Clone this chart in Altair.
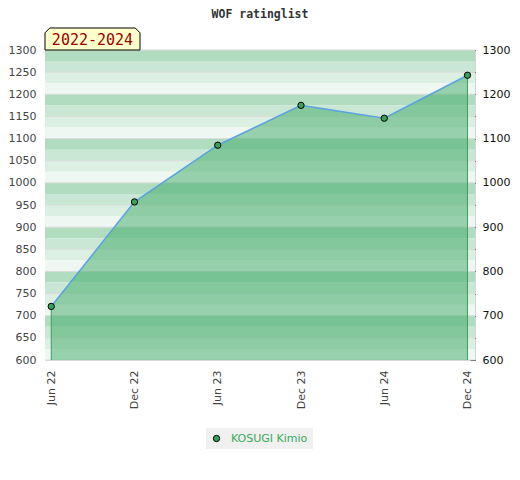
import altair as alt
import pandas as pd

# ---- data ----
labels = ["Jun 22", "Dec 22", "Jun 23", "Dec 23", "Jun 24", "Dec 24"]
ratings = [721, 957, 1085, 1175, 1146, 1243]
player = "KOSUGI Kimio"
period = "2022-2024"

Y_MIN, Y_MAX = 600, 1300
band_colors = ["#b2dcc0", "#c9e7d4", "#dcefe3", "#eff7f2"]

df = pd.DataFrame({"idx": list(range(len(labels))), "label": labels,
                   "rating": ratings, "player": player, "base": Y_MIN})
edges = df.iloc[[0, -1]]

band_tops = list(range(Y_MAX, Y_MIN, -25))
bands = pd.DataFrame({"top": band_tops,
                      "bottom": [t - 25 for t in band_tops],
                      "fill": [band_colors[i % 4] for i in range(len(band_tops))]})
grid = pd.DataFrame({"v": list(range(Y_MIN, Y_MAX + 1, 50))})

W, H = 430, 310
yscale = alt.Scale(domain=[Y_MIN, Y_MAX], nice=False, zero=False)
label_expr = "[" + ",".join("'%s'" % l for l in labels) + "][datum.value]"
xaxis = alt.Axis(values=list(range(len(labels))), labelExpr=label_expr,
                 labelAngle=-90, ticks=False, domain=False, grid=False,
                 labelPadding=10, labelColor="#444", labelFontSize=11,
                 labelFont="DejaVu Sans", title=None, labelBaseline="middle",
                 labelAlign="right")
xscale = alt.Scale(domain=[-0.075, 5.09], nice=False, zero=False)

band_layer = alt.Chart(bands).mark_rect().encode(
    x=alt.value(0), x2=alt.value(W),
    y=alt.Y("top:Q", scale=yscale,
            axis=alt.Axis(values=list(range(Y_MIN, Y_MAX + 1, 50)), ticks=False,
                          format="d", domain=False, grid=False, labelColor="#444",
                          labelFontSize=11, labelFont="DejaVu Sans",
                          labelPadding=9, title=None, orient="left")),
    y2="bottom:Q",
    fill=alt.Fill("fill:N", scale=None),
)

grid_layer = alt.Chart(grid).mark_rule(color="#d9dcda", strokeWidth=1).encode(
    y=alt.Y("v:Q", scale=yscale, axis=None),
)

area_layer = alt.Chart(df).mark_area(color="#3eaa66", opacity=0.5).encode(
    x=alt.X("idx:Q", scale=xscale, axis=xaxis),
    y=alt.Y("rating:Q", scale=yscale, axis=None),
    y2="base:Q",
)

edge_layer = alt.Chart(edges).mark_rule(color="#3aa05a", strokeWidth=1).encode(
    x=alt.X("idx:Q", scale=xscale, axis=xaxis),
    y=alt.Y("rating:Q", scale=yscale, axis=None),
    y2="base:Q",
)

line_layer = alt.Chart(df).mark_line(color="#5aa2e0", strokeWidth=1.5).encode(
    x=alt.X("idx:Q", scale=xscale, axis=xaxis),
    y=alt.Y("rating:Q", scale=yscale, axis=None),
)

point_layer = alt.Chart(df).mark_point(filled=True, stroke="black", strokeWidth=1,
                                       size=40, opacity=1).encode(
    x=alt.X("idx:Q", scale=xscale, axis=xaxis),
    y=alt.Y("rating:Q", scale=yscale,
            axis=alt.Axis(values=list(range(Y_MIN, Y_MAX + 1, 50)), orient="right",
                          labelExpr="datum.value % 100 == 0 ? format(datum.value, 'd') : ''",
                          tickSize=5, tickColor="#222", offset=-5, domain=False,
                          grid=False, labelPadding=7, labelColor="#111",
                          labelFontSize=11, labelFont="DejaVu Sans", title=None)),
    color=alt.Color("player:N", scale=alt.Scale(range=["#3aa05a"]),
                    legend=alt.Legend(title=None, orient="none", legendX=161,
                                      legendY=378, fillColor="#f0f0f0", padding=5,
                                      labelColor="#3aaa5a", labelFontSize=11,
                                      labelFont="DejaVu Sans", symbolStrokeColor="black",
                                      symbolStrokeWidth=1, symbolSize=40,
                                      symbolType="circle", labelOffset=9)),
)

badge_df = pd.DataFrame({"t": [period]})
badge_shape = ("M -1 0.2316 L -1 -0.13 L -0.9 -0.2316 L 0.9 -0.2316 "
               "L 1 -0.13 L 1 0.2316 Z")
badge_box = alt.Chart(badge_df).mark_point(
    shape=badge_shape, size=9025, filled=True, fill="#ffffcc", stroke="black",
    strokeWidth=1, opacity=1, clip=False).encode(
    x=alt.value(47.5), y=alt.value(-11))
badge_text = alt.Chart(badge_df).mark_text(
    font="DejaVu Sans Mono", fontSize=15, color="#990000", align="center",
    baseline="middle", clip=False).encode(
    x=alt.value(47.5), y=alt.value(-10), text="t:N")

chart = alt.layer(
    band_layer, grid_layer, area_layer, edge_layer, line_layer, point_layer,
    badge_box, badge_text,
).resolve_axis(y="independent").properties(
    width=W, height=H,
    title=alt.TitleParams("WOF ratinglist", font="DejaVu Sans Mono", fontSize=11.5,
                          fontWeight="bold", color="#333", anchor="middle", offset=5),
    autosize=alt.AutoSizeParams(type="none"),
    padding={"left": 37, "top": 42, "right": 37, "bottom": 112},
).configure_view(stroke="#d4d4d4", strokeWidth=1)

chart.save("out.html", embed_options={"renderer": "svg", "actions": False})
